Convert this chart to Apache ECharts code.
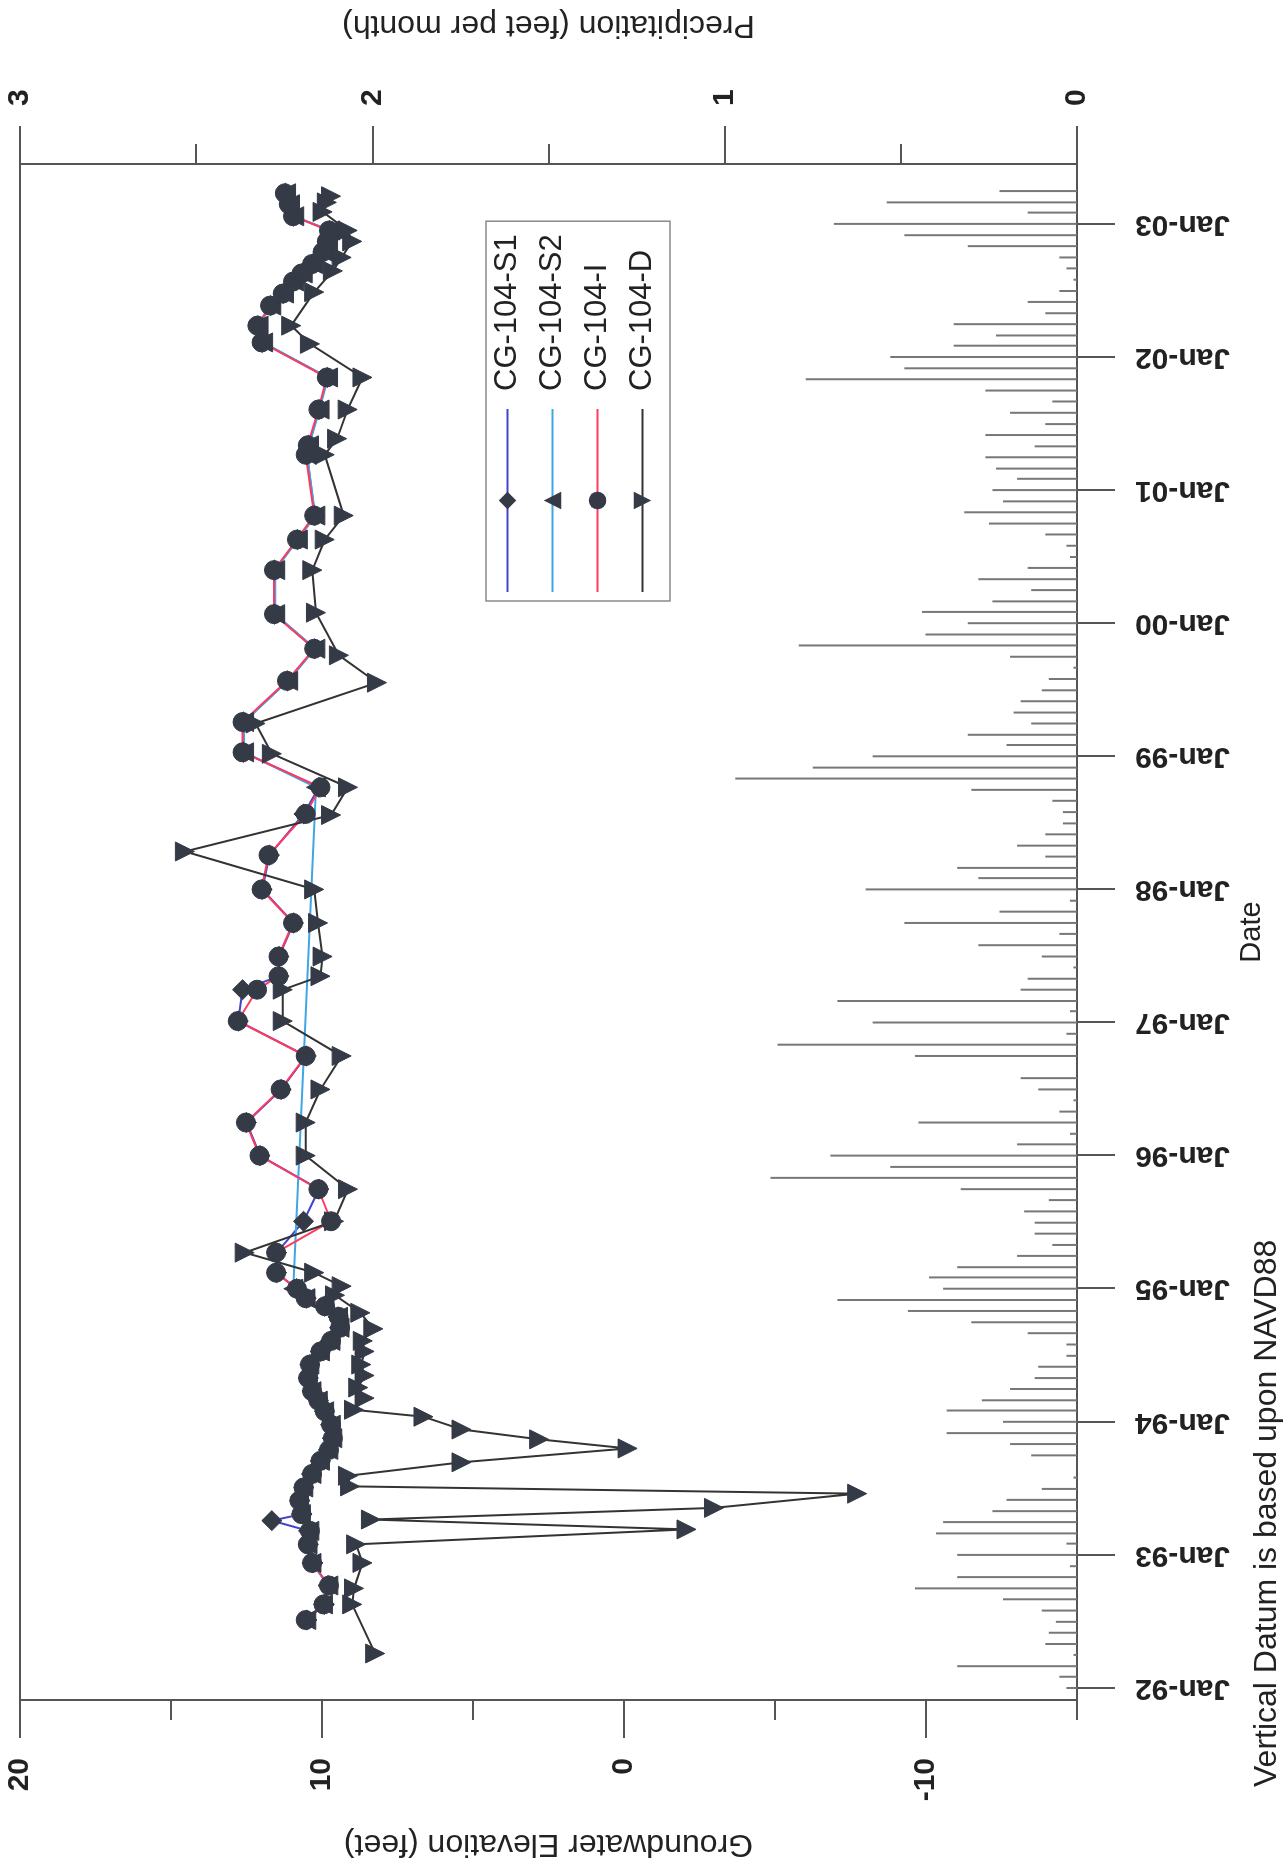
<!DOCTYPE html>
<html>
<head>
<meta charset="utf-8">
<title>CG-104 Groundwater Elevation and Precipitation</title>
<script src="https://cdn.jsdelivr.net/npm/echarts@6/dist/echarts.min.js"></script>
<style>
  html, body { margin: 0; padding: 0; width: 1288px; height: 1869px; overflow: hidden; background: #ffffff; }
  /* the chart is laid out landscape and turned a quarter turn counter-clockwise onto the portrait page */
  #chart { position: absolute; left: 0; top: 0; width: 1869px; height: 1288px;
           transform-origin: 0 0; transform: translateY(1869px) rotate(-90deg); }
</style>
</head>
<body>
<div id="chart"></div>
<script>
// ---------- data ----------
const yearTicks = [1992, 1993, 1994, 1995, 1996, 1997, 1998, 1999, 2000, 2001, 2002, 2003];
const elevMajorTicks = [-10, 0, 10, 20];
const elevMinorTicks = [-15, -5, 5, 15];

// monthly precipitation (feet per month), first value is January 1992
const precipStartYear = 1992;
const precipFeet = [
  0.03, 0.05, 0.34, 0.01, 0.09, 0.08, 0.06, 0.10, 0.21, 0.46, 0.34, 0.02,
  0.34, 0.03, 0.40, 0.38, 0.24, 0.20, 0.10, 0.01, 0.00, 0.13, 0.19, 0.37,
  0.21, 0.37, 0.27, 0.19, 0.12, 0.11, 0.03, 0.03, 0.14, 0.30, 0.48, 0.68,
  0.38, 0.42, 0.34, 0.17, 0.07, 0.12, 0.12, 0.15, 0.08, 0.33, 0.87, 0.53,
  0.70, 0.17, 0.02, 0.45, 0.05, 0.01, 0.11, 0.16, 0.00, 0.46, 0.85, 0.03,
  0.58, 0.02, 0.68, 0.16, 0.14, 0.01, 0.10, 0.28, 0.05, 0.49, 0.22, 0.02,
  0.60, 0.28, 0.34, 0.09, 0.17, 0.09, 0.04, 0.04, 0.07, 0.30, 0.97, 0.75,
  0.58, 0.20, 0.31, 0.13, 0.18, 0.16, 0.10, 0.08, 0.01, 0.19, 0.79, 0.43,
  0.31, 0.44, 0.24, 0.13, 0.28, 0.14, 0.02, 0.03, 0.09, 0.25, 0.32, 0.21,
  0.24, 0.17, 0.23, 0.26, 0.12, 0.26, 0.09, 0.19, 0.07, 0.26, 0.77, 0.49,
  0.53, 0.35, 0.23, 0.35, 0.09, 0.14, 0.05, 0.01, 0.03, 0.05, 0.31, 0.49,
  0.69, 0.14, 0.54, 0.22
];

// CG-104-I
const iDates = [
  '1992-07-06','1992-08-18','1992-10-09','1992-12-10','1993-01-30','1993-03-08','1993-04-23','1993-05-30',
  '1993-07-05','1993-08-11','1993-09-16','1993-10-16','1993-11-17','1993-12-24','1994-01-30','1994-02-28',
  '1994-03-26','1994-05-01','1994-06-07','1994-07-13','1994-08-11','1994-09-16','1994-10-16','1994-11-14',
  '1994-12-06','1995-01-01','1995-02-14','1995-04-10','1995-07-05','1995-10-01','1996-01-01','1996-04-01',
  '1996-07-01','1996-10-01','1997-01-05','1997-04-01','1997-05-08','1997-07-01','1997-10-01','1998-01-01',
  '1998-04-05','1998-07-27','1998-10-08','1999-01-12','1999-04-05','1999-07-27','1999-10-23','2000-01-26',
  '2000-05-26','2000-08-18','2000-10-23','2001-04-08','2001-05-04','2001-08-10','2001-11-06','2002-02-10',
  '2002-03-28','2002-05-22','2002-06-24','2002-07-27','2002-08-18','2002-09-13','2002-10-16','2002-11-14',
  '2002-12-14','2003-01-22','2003-02-24','2003-03-26'
];
const iElev = [
  10.54, 9.95, 9.77, 10.33, 10.47, 10.40, 10.68, 10.75,
  10.61, 10.33, 10.05, 9.77, 9.64, 9.70, 9.91, 10.12,
  10.33, 10.46, 10.40, 10.05, 9.70, 9.40, 9.45, 9.90,
  10.54, 10.83, 11.52, 11.52, 9.70, 10.12, 12.07, 12.52,
  11.37, 10.54, 12.79, 12.15, 11.44, 11.44, 10.96, 12.00,
  11.77, 10.54, 10.05, 12.63, 12.63, 11.16, 10.26, 11.59,
  11.59, 10.83, 10.26, 10.54, 10.47, 10.12, 9.84, 12.00,
  12.14, 11.72, 11.30, 10.96, 10.68, 10.33, 9.98, 9.84,
  9.77, 10.96, 11.10, 11.23
];

// CG-104-S1
const s1Dates = [
  '1992-07-06','1992-08-18','1992-10-09','1992-12-10','1993-01-30','1993-03-08','1993-04-05','1993-04-23',
  '1993-05-30','1993-07-05','1993-08-11','1993-09-16','1993-10-16','1993-11-17','1993-12-24','1994-01-30',
  '1994-02-28','1994-03-26','1994-05-01','1994-06-07','1994-07-13','1994-08-11','1994-09-16','1994-10-16',
  '1994-11-14','1994-12-06','1995-01-01','1995-02-14','1995-04-10','1995-07-05','1995-10-01','1996-01-01',
  '1996-04-01','1996-07-01','1996-10-01','1997-01-05','1997-04-01','1997-05-08','1997-07-01','1997-10-01',
  '1998-01-01','1998-04-05','1998-07-27','1998-10-08','1999-01-12','1999-04-05','1999-07-27','1999-10-23',
  '2000-01-26','2000-05-26','2000-08-18','2000-10-23','2001-04-08','2001-05-04','2001-08-10','2001-11-06',
  '2002-02-10','2002-03-28','2002-05-22','2002-06-24','2002-07-27','2002-08-18','2002-09-13','2002-10-16',
  '2002-11-14','2002-12-14','2003-01-22','2003-02-24','2003-03-26'
];
const s1Elev = [
  10.50, 9.92, 9.80, 10.30, 10.45, 10.45, 11.66, 10.66,
  10.73, 10.60, 10.35, 10.05, 9.79, 9.66, 9.72, 9.92,
  10.12, 10.33, 10.45, 10.40, 10.06, 9.72, 9.42, 9.47,
  9.92, 10.52, 10.85, 11.50, 11.50, 10.61, 10.10, 12.05,
  12.50, 11.35, 10.52, 12.77, 12.63, 11.42, 11.42, 10.94,
  11.98, 11.74, 10.60, 10.10, 12.60, 12.60, 11.14, 10.24,
  11.57, 11.57, 10.81, 10.24, 10.50, 10.44, 10.10, 9.82,
  11.98, 12.12, 11.70, 11.28, 10.94, 10.66, 10.31, 9.96,
  9.82, 9.75, 10.94, 11.08, 11.21
];

// CG-104-S2 (no readings between early 1995 and late 1998)
const s2Dates = [
  '1992-07-06','1992-08-18','1992-10-09','1992-12-10','1993-01-30','1993-03-08','1993-04-23','1993-05-30',
  '1993-07-05','1993-08-11','1993-09-16','1993-10-16','1993-11-17','1993-12-24','1994-01-30','1994-02-28',
  '1994-03-26','1994-05-01','1994-06-07','1994-07-13','1994-08-11','1994-09-16','1994-10-16','1994-11-14',
  '1994-12-06','1995-01-01','1998-10-08','1999-01-12','1999-04-05','1999-07-27','1999-10-23','2000-01-26',
  '2000-05-26','2000-08-18','2000-10-23','2001-04-08','2001-05-04','2001-08-10','2001-11-06','2002-02-10',
  '2002-03-28','2002-05-22','2002-06-24','2002-07-27','2002-08-18','2002-09-13','2002-10-16','2002-11-14',
  '2002-12-14','2003-01-22','2003-02-24','2003-03-26'
];
const s2Elev = [
  10.52, 9.97, 9.79, 10.35, 10.48, 10.42, 10.70, 10.76,
  10.62, 10.35, 10.07, 9.79, 9.66, 9.71, 9.93, 10.14,
  10.35, 10.47, 10.42, 10.07, 9.72, 9.42, 9.47, 9.92,
  10.55, 10.95, 10.20, 12.58, 12.58, 11.12, 10.22, 11.55,
  11.55, 10.80, 10.22, 10.50, 10.43, 10.08, 9.80, 11.95,
  12.10, 11.68, 11.26, 10.92, 10.64, 10.30, 9.95, 9.80,
  9.73, 10.92, 11.06, 11.19
];

// CG-104-D
const dDates = [
  '1992-04-05','1992-08-18','1992-10-01','1992-12-10','1993-01-30','1993-03-12','1993-04-08','1993-05-10',
  '1993-06-18','1993-07-08','1993-08-06','1993-09-12','1993-10-20','1993-11-14','1993-12-11','1994-01-15',
  '1994-02-03','1994-03-07','1994-04-05','1994-05-08','1994-06-07','1994-07-13','1994-08-11','1994-09-13',
  '1994-10-27','1994-12-14','1995-01-08','1995-02-14','1995-04-10','1995-07-05','1995-10-01','1996-01-01',
  '1996-04-01','1996-07-01','1996-10-01','1997-01-05','1997-04-01','1997-05-08','1997-07-01','1997-10-01',
  '1998-01-01','1998-04-15','1998-07-24','1998-10-08','1999-01-08','1999-04-01','1999-07-22','1999-10-05',
  '2000-01-30','2000-05-26','2000-08-18','2000-10-23','2001-04-08','2001-05-22','2001-08-10','2001-11-06',
  '2002-02-06','2002-03-28','2002-06-28','2002-08-25','2002-10-01','2002-11-14','2002-12-14','2003-02-03',
  '2003-03-01','2003-03-18'
];
const dElev = [
  8.24, 9.00, 8.94, 8.66, 8.87, -2.07, 8.38, -2.98,
  -7.72, 9.07, 9.14, 5.38, -0.12, 2.81, 5.38, 6.64,
  8.94, 8.59, 8.80, 8.59, 8.70, 8.59, 8.65, 8.30,
  8.73, 9.57, 9.35, 10.26, 12.56, 9.60, 9.14, 10.54,
  10.54, 10.05, 9.35, 11.30, 11.30, 10.05, 9.98, 10.13,
  10.26, 14.54, 9.70, 9.14, 11.66, 12.20, 8.18, 9.44,
  10.20, 10.32, 9.91, 9.28, 9.91, 9.50, 9.15, 8.66,
  10.40, 11.02, 10.26, 9.64, 9.35, 9.00, 9.15, 9.98,
  9.84, 9.70
];

// ---------- helpers ----------
function decimalYear(iso) {
  const d = new Date(iso + 'T00:00:00Z');
  const y = d.getUTCFullYear();
  const a = Date.UTC(y, 0, 1), b = Date.UTC(y + 1, 0, 1);
  return y + (d.getTime() - a) / (b - a);
}
function pairs(dates, values) {
  return dates.map((s, k) => [decimalYear(s), values[k]]);
}
const precipData = precipFeet.map((v, k) => {
  const y = precipStartYear + Math.floor(k / 12);
  const m = String(k % 12 + 1).padStart(2, '0');
  return [decimalYear(y + '-' + m + '-01'), v];
});

const FONT = "'Liberation Sans', Arial, Helvetica, sans-serif";
const INK = '#222222';
const AXIS = '#555555';
const MARK = '#343a46';

const tickFont = { fontFamily: FONT, fontSize: 30, fontWeight: 'bold', color: INK };
const nameFont = { fontFamily: FONT, fontSize: 32, color: INK };

function seriesLine(name, data, color, symbol, size, rotate) {
  return {
    name: name, type: 'line', xAxisIndex: 0, yAxisIndex: 0,
    data: data, symbol: symbol, symbolSize: size, symbolRotate: rotate || 0,
    showAllSymbol: true,
    lineStyle: { color: color, width: 2 },
    itemStyle: { color: MARK, borderColor: MARK },
    emphasis: { disabled: true }
  };
}

const chart = echarts.init(document.getElementById('chart'), null, { renderer: 'canvas' });
chart.setOption({
  animation: false,
  backgroundColor: '#ffffff',
  grid: { left: 169, right: 164, top: 20, bottom: 211, show: true, borderColor: AXIS, borderWidth: 2, containLabel: false },
  legend: {
    data: ['CG-104-S1', 'CG-104-S2', 'CG-104-I', 'CG-104-D'],
    orient: 'vertical', left: 1268, top: 486,
    itemWidth: 183, itemHeight: 22, itemGap: 14,
    padding: [6, 13, 12, 8],
    borderColor: '#8a8a8a', borderWidth: 1.5, backgroundColor: '#ffffff',
    textStyle: { fontFamily: FONT, fontSize: 31, color: INK, padding: [0, 0, 0, 13] },
    selectedMode: false
  },
  xAxis: [{
    // decimal years; ticks and labels sit on each 1 January
    type: 'value', min: 1991.91, max: 2003.45,
    name: 'Date', nameLocation: 'middle', nameGap: 160,
    nameTextStyle: { fontFamily: FONT, fontSize: 29, color: INK },
    axisLine: { show: true, onZero: false, lineStyle: { color: AXIS, width: 2 } },
    axisTick: { show: true, length: 38, customValues: yearTicks, lineStyle: { color: AXIS, width: 2 } },
    axisLabel: Object.assign({ rotate: 90, margin: 58, customValues: yearTicks,
      formatter: v => 'Jan-' + String(Math.round(v) % 100).padStart(2, '0') }, tickFont),
    splitLine: { show: false }
  }],
  yAxis: [{
    type: 'value', position: 'left', min: -15, max: 20, interval: 5,
    name: 'Groundwater Elevation (feet)', nameLocation: 'middle', nameGap: 128, nameRotate: 90,
    nameTextStyle: nameFont,
    axisLine: { show: true, onZero: false, lineStyle: { color: AXIS, width: 2 } },
    axisTick: { show: true, length: 38, customValues: elevMajorTicks, lineStyle: { color: AXIS, width: 2 } },
    axisLabel: Object.assign({ margin: 58, customValues: elevMajorTicks }, tickFont),
    splitLine: { show: false }
  }, {
    type: 'value', position: 'left', min: -15, max: 20, interval: 5,
    axisLine: { show: false },
    axisTick: { show: true, length: 20, customValues: elevMinorTicks, lineStyle: { color: AXIS, width: 2 } },
    axisLabel: { show: false },
    splitLine: { show: false }
  }, {
    type: 'value', position: 'right', min: 0, max: 3, interval: 1,
    name: 'Precipitation (feet per month)', nameLocation: 'middle', nameGap: 123, nameRotate: 90,
    nameTextStyle: nameFont,
    axisLine: { show: true, onZero: false, lineStyle: { color: AXIS, width: 2 } },
    axisTick: { show: true, length: 38, lineStyle: { color: AXIS, width: 2 } },
    minorTick: { show: true, splitNumber: 2, length: 20, lineStyle: { color: AXIS, width: 2 } },
    axisLabel: Object.assign({ margin: 58 }, tickFont),
    splitLine: { show: false }
  }],
  graphic: [{
    type: 'text', left: 82, top: 1251, silent: true,
    style: { text: 'Vertical Datum is based upon NAVD88', font: '32px ' + FONT, fill: INK }
  }],
  series: [
    {
      name: 'Precipitation', type: 'bar', xAxisIndex: 0, yAxisIndex: 2,
      data: precipData, barWidth: 2,
      itemStyle: { color: '#777777' }, silent: true, z: 1
    },
    seriesLine('CG-104-S1', pairs(s1Dates, s1Elev), '#4343d2', 'diamond', 20),
    seriesLine('CG-104-S2', pairs(s2Dates, s2Elev), '#3fa6e6', 'triangle', 19),
    seriesLine('CG-104-I', pairs(iDates, iElev), '#ff3a5c', 'circle', 19),
    seriesLine('CG-104-D', pairs(dDates, dElev), '#333333', 'triangle', 19, 180)
  ]
});
</script>
</body>
</html>
